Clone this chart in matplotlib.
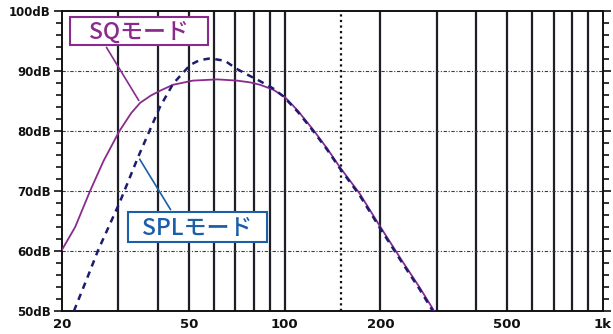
import matplotlib
matplotlib.use("Agg")
import matplotlib.pyplot as plt
from matplotlib.patches import Rectangle
from matplotlib.ticker import FixedLocator, NullLocator, MultipleLocator

plt.rcParams['font.family'] = ['Noto Sans CJK JP', 'DejaVu Sans']

# SQモード
sq_freq = [20, 22, 24.5, 27, 30.3, 33, 35.2, 38, 40.6, 44.6, 51.6, 61.5, 70.9,
           78, 83.8, 92, 100, 110, 123, 136, 149, 172, 200, 233, 265, 295]
sq_db = [60.2, 64.0, 70.0, 75.0, 80.0, 83.0, 84.7, 85.9, 86.7, 87.7, 88.4, 88.6, 88.4,
         88.1, 87.7, 86.9, 85.7, 83.4, 80.2, 77.1, 74.0, 69.6, 64.0, 58.5, 54.0, 50.0]

# SPLモード
spl_freq = [21.8, 24, 26.0, 30.3, 34.7, 40.6, 44.7, 50.5, 54, 58.4, 65, 70.5,
            77, 83.8, 92, 99, 110, 123, 136, 149, 172, 200, 233, 265, 292]
spl_db = [50.0, 55.5, 60.2, 68.0, 75.7, 84.0, 87.9, 91.0, 91.8, 92.1, 91.7, 90.4,
          89.3, 88.3, 87.1, 85.8, 83.2, 80.0, 76.9, 73.8, 69.3, 63.7, 58.2, 53.7, 50.0]

solid_grid = [30, 40, 50, 60, 70, 80, 90, 100, 200, 300, 400, 500, 600, 700, 800, 900]
dotted_grid = [150]
db_grid = [60, 70, 80, 90]

x_ticks = [20, 50, 100, 200, 500, 1000]
x_labels = ['20', '50', '100', '200', '500', '1k']
y_ticks = [50, 60, 70, 80, 90, 100]
y_labels = ['50dB', '60dB', '70dB', '80dB', '90dB', '100dB']

W, H = 613, 334
fig = plt.figure(figsize=(W / 100, H / 100), dpi=100)
ax = fig.add_axes([62 / W, (H - 311) / H, (603 - 62) / W, 300 / H])
ax.set_xscale('log')
ax.set_xlim(20, 1000)
ax.set_ylim(50, 100)

for f in solid_grid:
    ax.axvline(f, color='#1e1e28', lw=1.6, zorder=1)
for f in dotted_grid:
    ax.axvline(f, color='#111111', lw=1.6, ls=(0, (1, 1.5)), zorder=1)
for d in db_grid:
    ax.axhline(d, color='#3a3a55', lw=0.8, ls=(0, (3, 1.5, 1, 1.5)), zorder=1)

ax.plot(sq_freq, sq_db, color='#8a2a8f', lw=1.3, zorder=3)
ax.plot(spl_freq, spl_db, color='#1c1c6e', lw=1.8, ls=(0, (2.6, 2.2)), zorder=4)

ax.xaxis.set_major_locator(FixedLocator(x_ticks))
ax.xaxis.set_minor_locator(NullLocator())
ax.set_xticks(x_ticks)
ax.set_xticklabels(x_labels)
ax.set_yticks(y_ticks)
ax.set_yticklabels(y_labels)
ax.yaxis.set_minor_locator(MultipleLocator(2))
for lab in ax.get_xticklabels() + ax.get_yticklabels():
    lab.set_fontfamily('DejaVu Sans')
    lab.set_fontweight('bold')
ax.tick_params(axis='x', length=0, pad=5, labelsize=9.5, colors='#111111')
ax.tick_params(axis='y', which='major', direction='out', length=6, width=1.2,
               left=True, right=True, labelsize=8.5, pad=2, colors='#111111')
ax.tick_params(axis='y', which='minor', direction='out', length=4, width=1.2,
               left=True, right=True, colors='#111111')
for s in ax.spines.values():
    s.set_color('#111111')
    s.set_linewidth(1.4)

# ラベルと引き出し線
def px(x, y):
    return (x / W, 1 - y / H)

sq_col = '#8a2a8f'
spl_col = '#1a5fa8'
ax.annotate('', xy=(35.2, 84.7), xycoords='data',
            xytext=px(105, 45), textcoords='figure fraction',
            arrowprops=dict(arrowstyle='-', color=sq_col, lw=1.2), zorder=5)
ax.annotate('', xy=(34.7, 75.7), xycoords='data',
            xytext=px(172, 212), textcoords='figure fraction',
            arrowprops=dict(arrowstyle='-', color=spl_col, lw=1.2), zorder=5)

def label_box(x0, y0, x1, y1, text, color):
    fig.patches.append(Rectangle(px(x0, y1), (x1 - x0) / W, (y1 - y0) / H,
                                 transform=fig.transFigure, fc='white', ec=color,
                                 lw=1.5, zorder=9))
    fig.text(*px((x0 + x1) / 2, (y0 + y1) / 2 + 1), text, color=color,
             fontsize=16.5, fontweight='medium', ha='center', va='center', zorder=10)

label_box(70, 17, 208, 45, 'SQモード', sq_col)
label_box(128, 212, 267, 242, 'SPLモード', spl_col)

fig.savefig('out.png', dpi=100)
